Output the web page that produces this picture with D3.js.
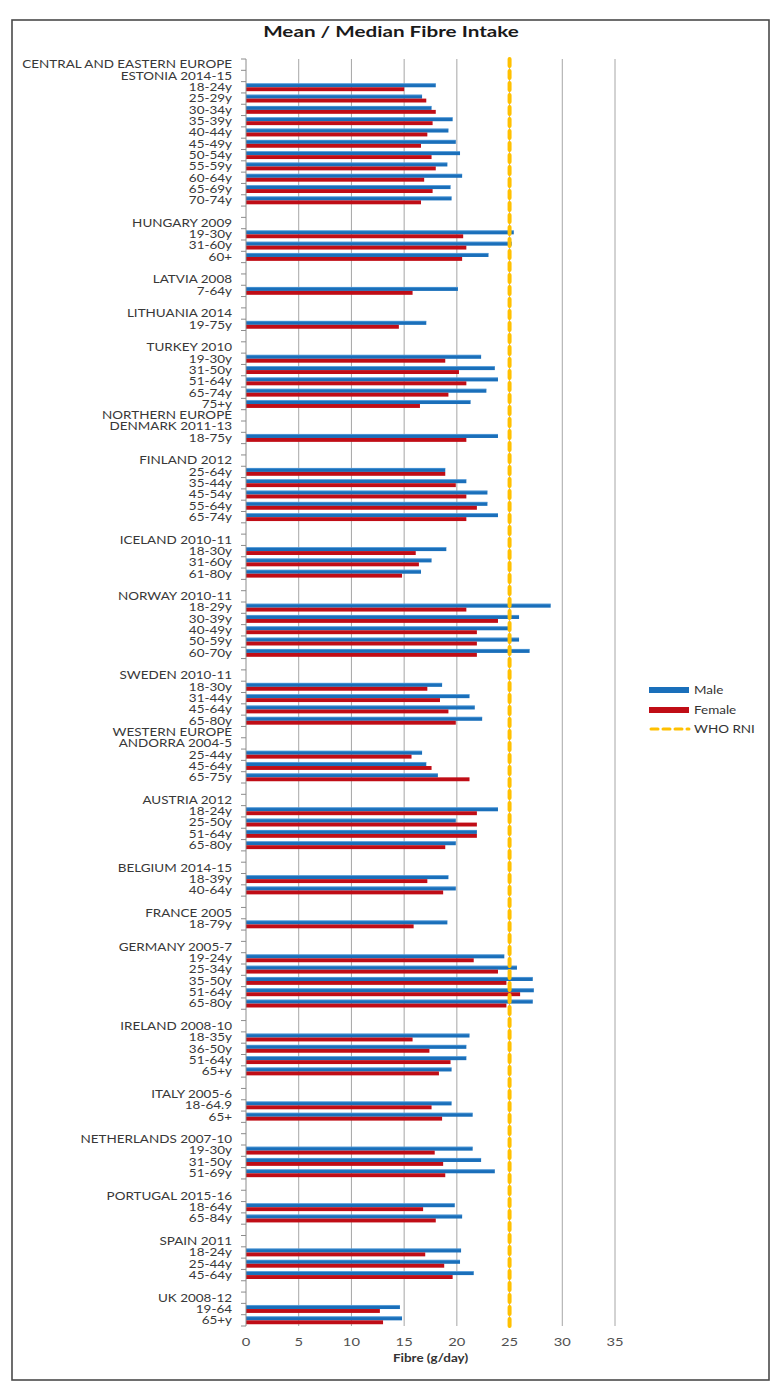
<!DOCTYPE html>
<html><head><meta charset="utf-8">
<script src="https://cdn.jsdelivr.net/npm/d3@7"></script>
<style>html,body{margin:0;padding:0;background:#fff;}svg{display:block;}</style>
</head><body>
<script>
const categories = [
"CENTRAL AND EASTERN EUROPE","ESTONIA 2014-15","18-24y","25-29y","30-34y","35-39y","40-44y","45-49y","50-54y","55-59y","60-64y","65-69y","70-74y","",
"HUNGARY 2009","19-30y","31-60y","60+","",
"LATVIA 2008","7-64y","",
"LITHUANIA 2014","19-75y","",
"TURKEY 2010","19-30y","31-50y","51-64y","65-74y","75+y",
"NORTHERN EUROPE","DENMARK 2011-13","18-75y","",
"FINLAND 2012","25-64y","35-44y","45-54y","55-64y","65-74y","",
"ICELAND 2010-11","18-30y","31-60y","61-80y","",
"NORWAY 2010-11","18-29y","30-39y","40-49y","50-59y","60-70y","",
"SWEDEN 2010-11","18-30y","31-44y","45-64y","65-80y",
"WESTERN EUROPE","ANDORRA 2004-5","25-44y","45-64y","65-75y","",
"AUSTRIA 2012","18-24y","25-50y","51-64y","65-80y","",
"BELGIUM 2014-15","18-39y","40-64y","",
"FRANCE 2005","18-79y","",
"GERMANY 2005-7","19-24y","25-34y","35-50y","51-64y","65-80y","",
"IRELAND 2008-10","18-35y","36-50y","51-64y","65+y","",
"ITALY 2005-6","18-64.9","65+","",
"NETHERLANDS 2007-10","19-30y","31-50y","51-69y","",
"PORTUGAL 2015-16","18-64y","65-84y","",
"SPAIN 2011","18-24y","25-44y","45-64y","",
"UK 2008-12","19-64","65+y"
];
const male = [
null,null,18.0,16.7,17.6,19.6,19.2,19.9,20.3,19.1,20.5,19.4,19.5,null,
null,25.4,25.2,23.0,null,
null,20.1,null,
null,17.1,null,
null,22.3,23.6,23.9,22.8,21.3,
null,null,23.9,null,
null,18.9,20.9,22.9,22.9,23.9,null,
null,19.0,17.6,16.6,null,
null,28.9,25.9,24.9,25.9,26.9,null,
null,18.6,21.2,21.7,22.4,
null,null,16.7,17.1,18.2,null,
null,23.9,19.9,21.9,19.9,null,
null,19.2,19.9,null,
null,19.1,null,
null,24.5,25.7,27.2,27.3,27.2,null,
null,21.2,20.9,20.9,19.5,null,
null,19.5,21.5,null,
null,21.5,22.3,23.6,null,
null,19.8,20.5,null,
null,20.4,20.3,21.6,null,
null,14.6,14.8
];
const female = [
null,null,15.0,17.1,18.0,17.7,17.2,16.6,17.6,18.0,16.9,17.7,16.6,null,
null,20.6,20.9,20.5,null,
null,15.8,null,
null,14.5,null,
null,18.9,20.2,20.9,19.2,16.5,
null,null,20.9,null,
null,18.9,19.9,20.9,21.9,20.9,null,
null,16.1,16.4,14.8,null,
null,20.9,23.9,21.9,21.9,21.9,null,
null,17.2,18.4,19.2,19.9,
null,null,15.7,17.6,21.2,null,
null,21.9,21.9,21.9,18.9,null,
null,17.2,18.7,null,
null,15.9,null,
null,21.6,23.9,24.7,26.0,24.7,null,
null,15.8,17.4,19.4,18.3,null,
null,17.6,18.6,null,
null,17.9,18.7,18.9,null,
null,16.8,18.0,null,
null,17.0,18.8,19.6,null,
null,12.7,13.0
];
const xTicks = [0,5,10,15,20,25,30,35];
const whoRNI = 25;
const seriesNames = ["Male","Female","WHO RNI"];
const title = "Mean / Median Fibre Intake";
const xTitle = "Fibre (g/day)";

const W = 782, H = 1390;
const colMale = "#1a6fba", colFemale = "#c00d16", colWho = "#ffc000";
const FONT = "Lato, 'Open Sans', sans-serif";

const svg = d3.select("body").append("svg").attr("width", W).attr("height", H);
svg.append("rect").attr("width", W).attr("height", H).attr("fill", "#fff");
svg.append("rect").attr("x", 12).attr("y", 20).attr("width", 757).attr("height", 1360)
  .attr("fill", "#fff").attr("stroke", "#4a4a4a").attr("stroke-width", 1.6);

const x = d3.scaleLinear().domain([0, 35]).range([246, 615]);
const y = d3.scaleBand().domain(d3.range(categories.length)).range([59, 1326]);
const bw = y.bandwidth();
const bh = 3.9;

function stretchText(g, str, tx, ty, opts) {
  return g.append("text").text(str)
    .attr("font-family", FONT).attr("font-size", opts.size)
    .attr("font-weight", opts.weight || "normal")
    .attr("fill", opts.fill || "#333")
    .attr("text-anchor", opts.anchor || "start")
    .attr("transform", `translate(${tx},${ty}) scale(${opts.sx || 1},1)`);
}
const probe = svg.append("text").text(categories[0]).attr("font-family", FONT).attr("font-size", 10.5);
const sx = 210 / probe.node().getComputedTextLength();
probe.remove();

// gridlines
svg.append("g").selectAll("line").data(xTicks.filter(d => d > 0)).join("line")
  .attr("x1", d => x(d)).attr("x2", d => x(d)).attr("y1", 59).attr("y2", 1326)
  .attr("stroke", "#a6a6a6").attr("stroke-width", 1);

// bars
const gb = svg.append("g");
categories.forEach((c, i) => {
  const top = y(i) + (bw - 2 * bh) / 2;
  if (male[i] != null) {
    gb.append("rect").attr("x", x(0)).attr("y", top).attr("width", x(male[i]) - x(0)).attr("height", bh)
      .attr("fill", colMale);
    gb.append("line").attr("x1", x(0)).attr("x2", x(male[i])).attr("y1", top + 0.3).attr("y2", top + 0.3)
      .attr("stroke", "#6fb0e8").attr("stroke-width", 0.6);
  }
  if (female[i] != null) {
    gb.append("rect").attr("x", x(0)).attr("y", top + bh).attr("width", x(female[i]) - x(0)).attr("height", bh)
      .attr("fill", colFemale);
  }
});

// left axis line + ticks
const ga = svg.append("g");
ga.append("line").attr("x1", x(0)).attr("x2", x(0)).attr("y1", 59).attr("y2", 1326)
  .attr("stroke", "#8c8c8c").attr("stroke-width", 1);
ga.selectAll("line.tk").data(d3.range(categories.length + 1)).join("line").attr("class", "tk")
  .attr("x1", x(0) - 5).attr("x2", x(0))
  .attr("y1", d => 59 + d * bw).attr("y2", d => 59 + d * bw)
  .attr("stroke", "#8c8c8c").attr("stroke-width", 1);

// category labels
const gl = svg.append("g");
categories.forEach((c, i) => {
  if (!c) return;
  stretchText(gl, c, 232, y(i) + bw / 2 + 3.8, {size: 10.5, anchor: "end", sx: sx, fill: "#383838"});
});

// WHO RNI line
svg.append("line").attr("x1", x(whoRNI)).attr("x2", x(whoRNI)).attr("y1", 59).attr("y2", 1326)
  .attr("stroke", colWho).attr("stroke-width", 4).attr("stroke-dasharray", "7,5").attr("stroke-linecap", "round");

// x tick labels
const gx = svg.append("g");
xTicks.forEach(t => stretchText(gx, String(t), x(t), 1345.5, {size: 11.5, anchor: "middle", sx: sx, fill: "#505050"}));

// axis title
stretchText(svg, xTitle, x(17.5), 1362, {size: 10.5, weight: "bold", anchor: "middle", sx: sx, fill: "#333"});

// title
const tp = svg.append("text").text(title).attr("font-family", FONT).attr("font-size", 15).attr("font-weight", "bold");
const tsx = 256 / tp.node().getComputedTextLength();
tp.remove();
stretchText(svg, title, 391, 37, {size: 15, weight: "bold", anchor: "middle", sx: tsx, fill: "#1a1a1a"});

// legend
const lg = svg.append("g");
const legY = [690, 710, 729];
const legCol = [colMale, colFemale, colWho];
seriesNames.forEach((s, k) => {
  if (k < 2) {
    lg.append("rect").attr("x", 649).attr("y", legY[k] - 3).attr("width", 40).attr("height", 6).attr("fill", legCol[k]);
  } else {
    lg.append("line").attr("x1", 651).attr("x2", 689).attr("y1", legY[k]).attr("y2", legY[k])
      .attr("stroke", colWho).attr("stroke-width", 3).attr("stroke-dasharray", "7,5").attr("stroke-linecap", "round");
  }
  stretchText(lg, s, 694, legY[k] + 4, {size: 10.5, sx: sx, fill: "#333"});
});
</script>
</body></html>
